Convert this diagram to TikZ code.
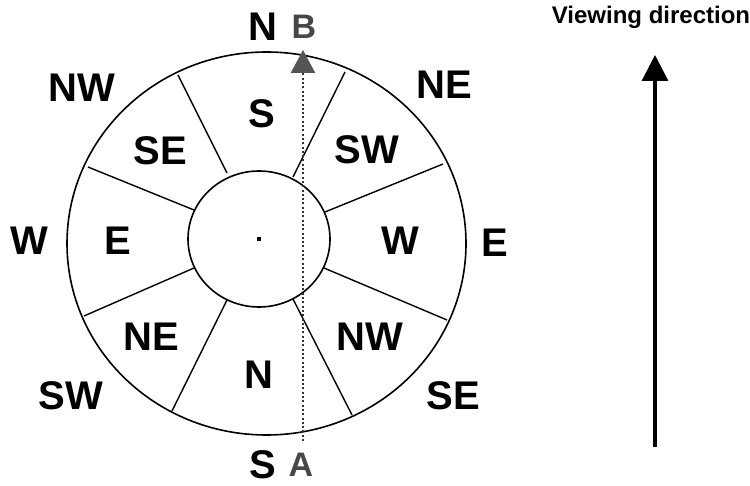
\documentclass[tikz,border=0pt]{standalone}
\usepackage{fontspec}
\setmainfont{Liberation Sans}
\usetikzlibrary{arrows.meta}
\definecolor{tipgray}{HTML}{555555}
\definecolor{labgray}{HTML}{474747}
\tikzset{
  lab/.style={font=\fontsize{40}{40}\selectfont\bfseries, inner sep=0pt, anchor=center},
  lablet/.style={font=\fontsize{34}{34}\selectfont\bfseries, text=labgray, inner sep=0pt, anchor=center},
  ring/.style={line width=1.6pt, draw=black},
  divider/.style={line width=1.4pt, draw=black},
}
\begin{document}
\begin{tikzpicture}[x=1pt,y=-1pt]
\useasboundingbox[fill=white] (0,0) rectangle (750,486);
% rings
\draw[ring] (266.5,243.5) ellipse [x radius=199.5pt, y radius=191.5pt];
\draw[ring] (259,239) ellipse [x radius=71pt, y radius=68pt];
\fill (257,241) rectangle ++(4,-4);
% dividers
\draw[divider] (178,75) -- (227,173);
\draw[divider] (345,72) -- (293,177);
\draw[divider] (443,164) -- (325,212);
\draw[divider] (447,320) -- (324,268);
\draw[divider] (352,415) -- (293,299);
\draw[divider] (172,411) -- (227,300);
\draw[divider] (84,316) -- (194,268);
\draw[divider] (88,167) -- (194,210);
% inner labels
\node[lab] (iS)  at (262,114) {S};
\node[lab] (iSW) at (367,150) {SW};
\node[lab] (iW)  at (400,241) {W};
\node[lab] (iNW) at (370,337) {NW};
\node[lab] (iN)  at (259,375) {N};
\node[lab] (iNE) at (151,337) {NE};
\node[lab] (iE)  at (118,241) {E};
\node[lab] (iSE) at (160,151) {SE};
% outer labels
\node[lab] (oN)  at (263,27) {N};
\node[lab] (oNE) at (444,85) {NE};
\node[lab] (oE)  at (495,243) {E};
\node[lab] (oSE) at (453,396) {SE};
\node[lab] (oS)  at (263,465) {S};
\node[lab] (oSW) at (71,396) {SW};
\node[lab] (oW)  at (29,241) {W};
\node[lab] (oNW) at (82,88) {NW};
\node[lablet] (B) at (304,27) {B};
\node[lablet] (A) at (301,465) {A};
% dotted sight line
\coordinate (dotS) at (303,441);
\coordinate (dotN) at (303,50);
\draw[line width=2.4pt, draw=black!80, dash pattern=on 2pt off 2.3pt, -{Triangle[length=23pt,width=24pt,color=tipgray,fill=tipgray]}] (dotS) -- (dotN);
% viewing direction
\node[font=\fontsize{24}{24}\selectfont\bfseries, inner sep=0pt, anchor=base] (vd) at (651,24) {Viewing direction};
\coordinate (vS) at (655,447);
\coordinate (vN) at (655,55);
\draw[line width=3.2pt, -{Triangle[length=26pt,width=26pt]}] (vS) -- (vN);
\end{tikzpicture}
\end{document}
